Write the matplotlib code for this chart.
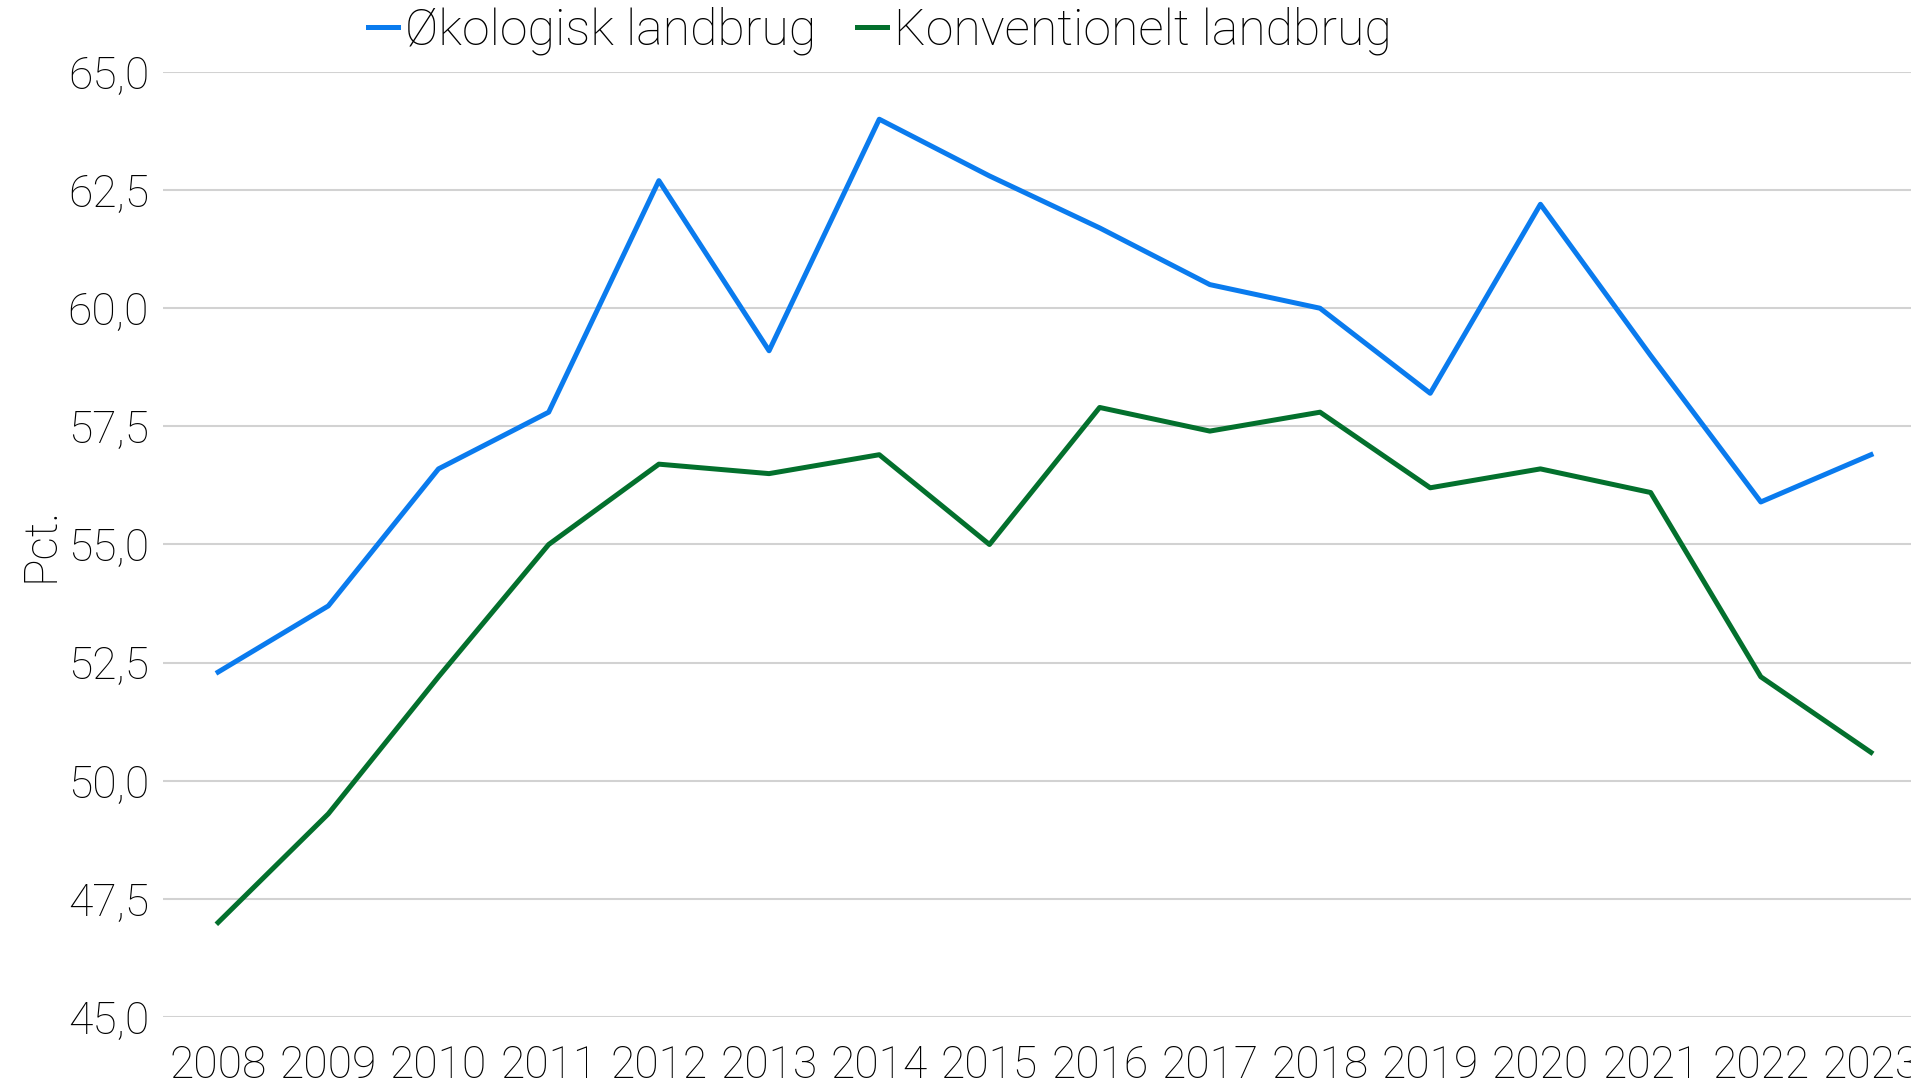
import numpy as np
import matplotlib.pyplot as plt

years = np.arange(2008, 2024)
okologisk = [52.3, 53.7, 56.6, 57.8, 62.7, 59.1, 64.0, 62.8, 61.7, 60.5,
             60.0, 58.2, 62.2, 59.0, 55.9, 56.9]
konventionelt = [47.0, 49.3, 52.2, 55.0, 56.7, 56.5, 56.9, 55.0, 57.9, 57.4,
                 57.8, 56.2, 56.6, 56.1, 52.2, 50.6]
series_names = ["Økologisk landbrug", "Konventionelt landbrug"]
y_ticks = np.arange(45.0, 65.1, 2.5)

plt.rcParams['font.family'] = ['Roboto', 'DejaVu Sans']
plt.rcParams['font.weight'] = 'light'
plt.rcParams['axes.labelweight'] = 'light'

fig = plt.figure(figsize=(19.11, 10.84), dpi=100)
# axes run a bit past the right edge, so the last year label gets cut
ax = fig.add_axes([0.0853, 0.0618, 0.9226, 0.8718])

ax.plot(years, okologisk, color='#0A7BEE', lw=3.6, label=series_names[0])
ax.plot(years, konventionelt, color='#03702D', lw=3.6, label=series_names[1])

ax.set_xlim(2007.5, 2023.5)
ax.set_ylim(45, 65)
ax.set_xticks(years)
ax.set_xticklabels([str(y) for y in years])
ax.set_yticks(y_ticks)
ax.set_yticklabels([f"{v:.1f}".replace('.', ',') for v in y_ticks])
ax.tick_params(axis='both', length=0, labelsize=32, colors='black')
ax.tick_params(axis='x', pad=20)
ax.tick_params(axis='y', pad=10)

ax.grid(axis='y', color='#D2D2D2', lw=1.5)
ax.set_axisbelow(True)
for s in ax.spines.values():
    s.set_visible(False)

ax.set_ylabel("Pct.", fontsize=33, labelpad=4)

fig.legend(loc='center', bbox_to_anchor=(0.4605, 0.972), ncol=2, frameon=False,
           fontsize=36, handlelength=0.6, handletextpad=0.15, columnspacing=0.8)

fig.savefig("out.png", dpi=100)
